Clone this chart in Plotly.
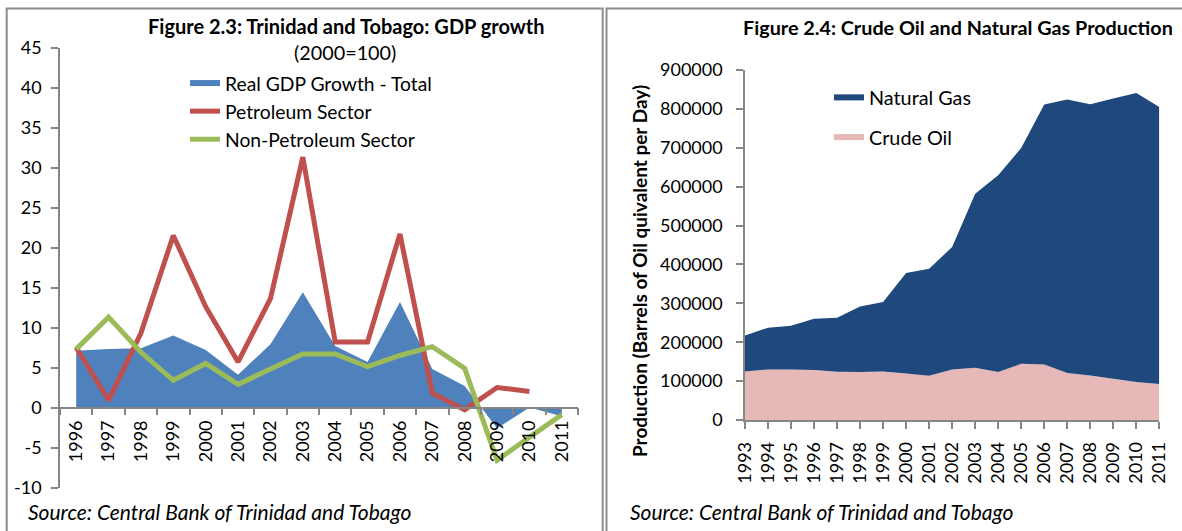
import plotly.graph_objects as go

# ---------------- Data ----------------
gdp_years = ["1996", "1997", "1998", "1999", "2000", "2001", "2002", "2003",
             "2004", "2005", "2006", "2007", "2008", "2009", "2010", "2011"]
real_gdp_total = [7.1, 7.3, 7.4, 9.0, 7.2, 4.1, 7.9, 14.4, 7.7, 5.7, 13.2, 4.8, 2.7, -2.6, 0.0, -1.1]
petroleum_sector = [7.5, 0.9, 9.3, 21.5, 12.6, 5.7, 13.6, 31.3, 8.2, 8.2, 21.7, 1.8, -0.3, 2.5, 2.0, None]
non_petroleum_sector = [7.3, 11.3, 6.9, 3.4, 5.5, 2.9, 4.8, 6.7, 6.7, 5.1, 6.5, 7.6, 4.9, -6.6, -3.7, -0.9]
gdp_tick_vals = [-10, -5, 0, 5, 10, 15, 20, 25, 30, 35, 40, 45]
gdp_tick_text = ["-10", "-5", "0", "5", "10", "15", "20", "25", "30", "35", "40", "45"]

prod_years = list(range(1993, 2012))
crude_oil = [124900, 130000, 130000, 128300, 124000, 123200, 124900, 119800, 113800, 130000,
             134300, 123200, 144600, 142900, 120600, 114600, 106000, 97400, 92300]
natural_gas = [92600, 107200, 112400, 132100, 139000, 168900, 178400, 258100, 275200, 314800,
               447700, 506000, 554900, 668100, 703300, 697300, 720500, 743700, 712800]

# ---------------- Style ----------------
W, H = 1182, 531
FONT = "Lato"
AX = "#868686"
def px(x): return x / W
def py(y): return 1 - y / H

fig = go.Figure()

# Left panel traces
fig.add_trace(go.Scatter(x=gdp_years, y=real_gdp_total, fill="tozeroy", mode="none",
                         fillcolor="#4F81BD", name="Real GDP Growth - Total",
                         xaxis="x", yaxis="y", legend="legend"))
fig.add_trace(go.Scatter(x=gdp_years, y=petroleum_sector, mode="lines",
                         line=dict(color="#C0504D", width=5), name="Petroleum Sector",
                         xaxis="x", yaxis="y", legend="legend"))
fig.add_trace(go.Scatter(x=gdp_years, y=non_petroleum_sector, mode="lines",
                         line=dict(color="#9BBB59", width=5), name="Non-Petroleum Sector",
                         xaxis="x", yaxis="y", legend="legend"))

# Right panel traces
fig.add_trace(go.Scatter(x=prod_years, y=crude_oil, stackgroup="p", mode="none",
                         fillcolor="#E6B9B8", name="Crude Oil", legendgroup="oil", legendrank=2,
                         xaxis="x2", yaxis="y2", legend="legend2"))
fig.add_trace(go.Scatter(x=prod_years, y=natural_gas, stackgroup="p", mode="none",
                         fillcolor="#1F497D", name="Natural Gas", legendgroup="gas", legendrank=1,
                         xaxis="x2", yaxis="y2", legend="legend2"))

tickfont = dict(family=FONT, size=18, color="black")

fig.update_layout(
    template="none",
    width=W, height=H, autosize=False,
    margin=dict(l=0, r=0, t=0, b=0, pad=0),
    paper_bgcolor="white", plot_bgcolor="rgba(0,0,0,0)",
    font=dict(family=FONT, color="black"),
    xaxis=dict(domain=[px(60), px(578)], type="category", range=[-0.5, 15.5],
               anchor="free", position=py(407.5), showline=True, linecolor=AX, linewidth=1.5,
               ticks="outside", tickson="boundaries", ticklen=7, tickcolor=AX, tickwidth=1.5,
               tickangle=-90, tickfont=tickfont, ticklabelstandoff=5, automargin=False,
               showgrid=False, zeroline=False, fixedrange=True),
    yaxis=dict(domain=[py(487.5), py(47.5)], range=[-10, 45],
               tickmode="array", tickvals=gdp_tick_vals, ticktext=gdp_tick_text,
               showline=True, linecolor=AX, linewidth=1.5, ticks="outside", ticklen=7,
               tickcolor=AX, tickwidth=1.5, tickfont=tickfont, ticklabelstandoff=6,
               automargin=False, showgrid=False, zeroline=False, anchor="x"),
    xaxis2=dict(domain=[px(745), px(1159.3)], range=[1993, 2011], dtick=1, tick0=1993,
                showline=True, linecolor=AX, linewidth=1.5, ticks="outside", ticklen=7,
                tickcolor=AX, tickwidth=1.5, tickangle=-90, tickfont=tickfont,
                ticklabelstandoff=6, automargin=False, showgrid=False, zeroline=False, anchor="y2"),
    yaxis2=dict(domain=[py(420), py(70)], range=[0, 900000], dtick=100000, tickformat="d",
                showline=True, linecolor=AX, linewidth=1.5, ticks="outside", ticklen=7,
                tickcolor=AX, tickwidth=1.5, tickfont=tickfont, ticklabelstandoff=10,
                automargin=False, showgrid=False, zeroline=False, anchor="x2"),
    legend=dict(x=px(185), y=py(64), xanchor="left", yanchor="top",
                font=dict(family=FONT, size=19.3, color="black"),
                bgcolor="rgba(0,0,0,0)", borderwidth=0, tracegroupgap=0, itemwidth=30),
    legend2=dict(x=px(829), y=py(78), xanchor="left", yanchor="top",
                 font=dict(family=FONT, size=19.8, color="black"), traceorder="grouped",
                 bgcolor="rgba(0,0,0,0)", borderwidth=0, tracegroupgap=11, itemwidth=30),
    showlegend=True,
)

# Panel borders
border = dict(color="#8C8C8C", width=2)
fig.add_shape(type="rect", xref="paper", yref="paper", x0=px(6.7), x1=px(602.7),
              y0=-0.1, y1=py(8.5), line=border, fillcolor="rgba(0,0,0,0)", layer="below")
fig.add_shape(type="rect", xref="paper", yref="paper", x0=px(606.5), x1=1.1,
              y0=-0.1, y1=py(8.5), line=border, fillcolor="rgba(0,0,0,0)", layer="below")

# Titles and source notes
fig.add_annotation(text="<b>Figure 2.3: Trinidad and Tobago: GDP growth</b>", xref="paper", yref="paper",
                   x=px(346), y=py(26), showarrow=False, xanchor="center", yanchor="middle",
                   font=dict(family=FONT, size=20, color="black"))
fig.add_annotation(text="(2000=100)", xref="paper", yref="paper",
                   x=px(345), y=py(52), showarrow=False, xanchor="center", yanchor="middle",
                   font=dict(family=FONT, size=19.8, color="black"))
fig.add_annotation(text="<b>Figure 2.4: Crude Oil and Natural Gas Production</b>", xref="paper", yref="paper",
                   x=px(957.5), y=py(27), showarrow=False, xanchor="center", yanchor="middle",
                   font=dict(family=FONT, size=19.8, color="black"))
fig.add_annotation(text="<b>Production (Barrels of Oil quivalent per Day)</b>", xref="paper", yref="paper",
                   x=px(639), y=py(271), showarrow=False, xanchor="center", yanchor="middle",
                   textangle=-90, font=dict(family=FONT, size=19, color="black"))
fig.add_annotation(text="<i>Source: Central Bank of Trinidad and Tobago</i>", xref="paper", yref="paper",
                   x=px(26), y=py(511), showarrow=False, xanchor="left", yanchor="middle",
                   font=dict(family=FONT, size=21, color="black"))
fig.add_annotation(text="<i>Source: Central Bank of Trinidad and Tobago</i>", xref="paper", yref="paper",
                   x=px(628), y=py(511), showarrow=False, xanchor="left", yanchor="middle",
                   font=dict(family=FONT, size=21, color="black"))

fig.write_html("out.html", config={"displayModeBar": False},
               post_script="document.body.style.margin='0';document.body.style.overflow='hidden';")
